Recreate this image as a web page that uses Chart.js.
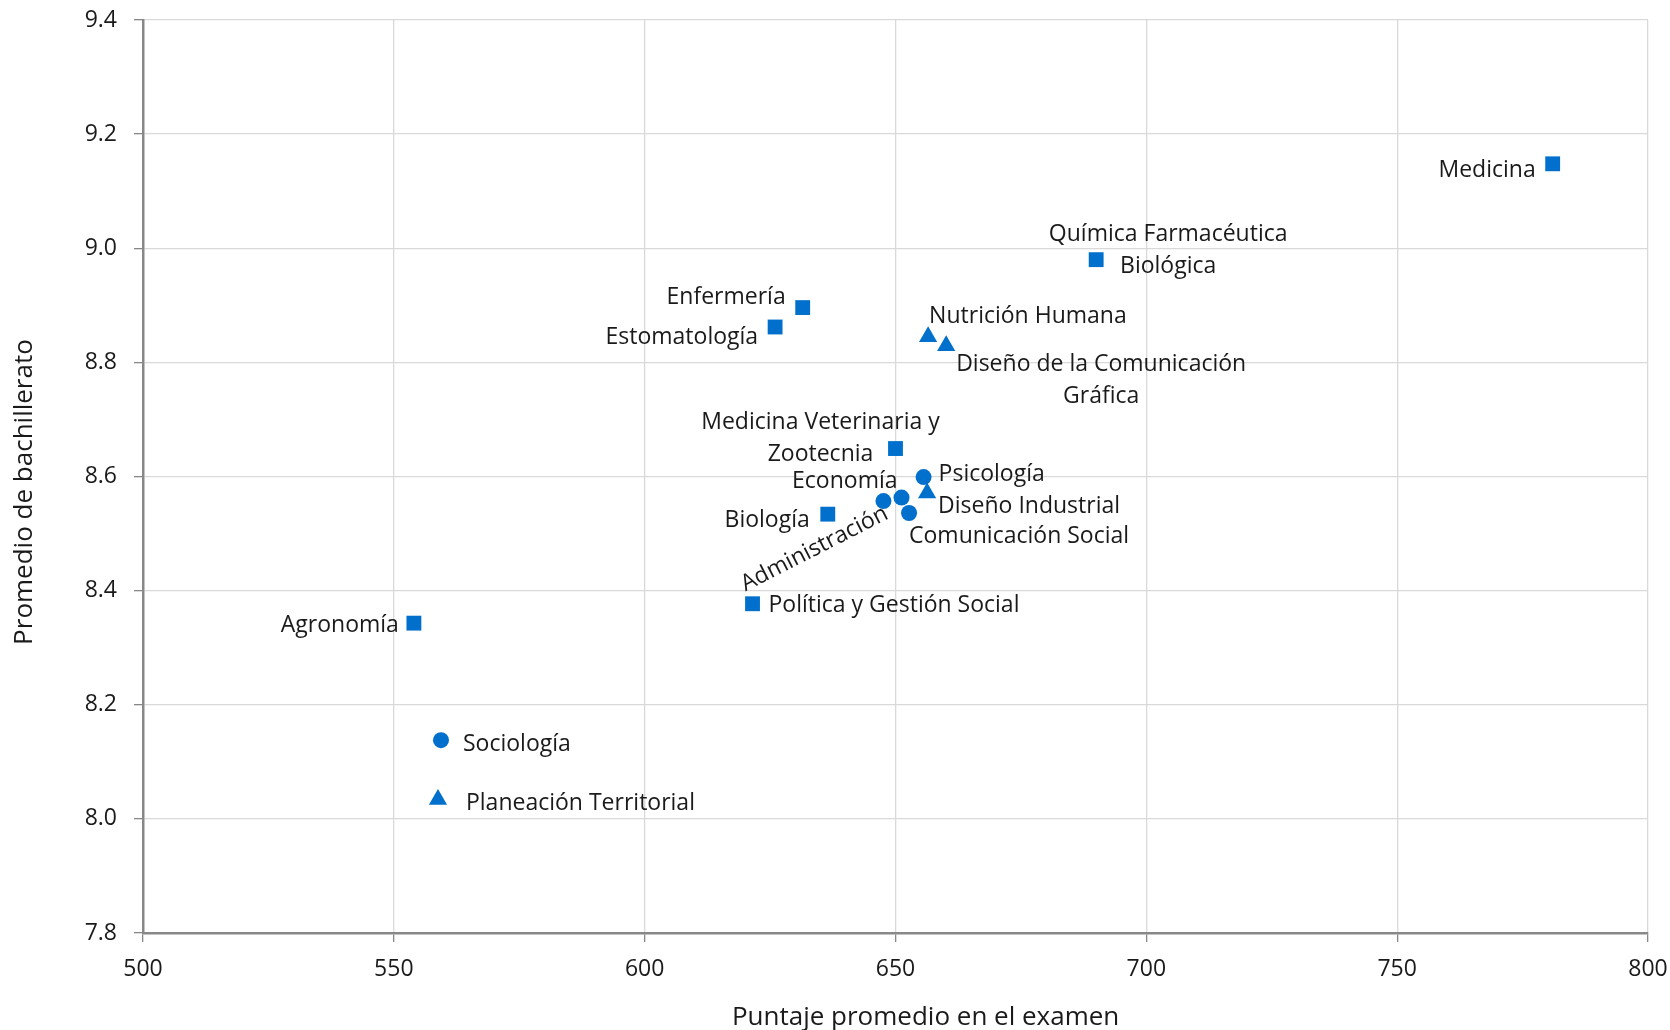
<!DOCTYPE html>
<html>
<head>
<meta charset="utf-8">
<script src="https://cdn.jsdelivr.net/npm/chart.js@4"></script>
<style>
  html, body { margin: 0; padding: 0; background: #fff; }
  #wrap { width: 1670px; height: 1030px; position: relative; }
</style>
</head>
<body>
<div id="wrap"><canvas id="c" width="1670" height="1030"></canvas></div>
<script>
// ---- Data ----
const squareNames = ['Medicina', 'Química Farmacéutica\nBiológica', 'Enfermería', 'Estomatología',
  'Medicina Veterinaria y\nZootecnia', 'Biología', 'Política y Gestión Social', 'Agronomía'];
const squareX = [781, 690, 631.5, 626, 650, 636.5, 621.5, 554];
const squareY = [9.148, 8.98, 8.896, 8.862, 8.649, 8.534, 8.377, 8.343];

const circleNames = ['Psicología', 'Economía', 'Administración', 'Comunicación Social', 'Sociología'];
const circleX = [655.6, 651.2, 647.6, 652.7, 559.4];
const circleY = [8.599, 8.563, 8.557, 8.536, 8.138];

const triangleNames = ['Nutrición Humana', 'Diseño de la Comunicación\nGráfica', 'Diseño Industrial', 'Planeación Territorial'];
const triangleX = [656.5, 660.1, 656.3, 558.8];
const triangleY = [8.845, 8.829, 8.571, 8.034];

const xTicks = [500, 550, 600, 650, 700, 750, 800];
const yTicks = [7.8, 8.0, 8.2, 8.4, 8.6, 8.8, 9.0, 9.2, 9.4];
const xTitle = 'Puntaje promedio en el examen';
const yTitle = 'Promedio de bachillerato';

// ---- Label placement (pixel offsets from each marker) ----
const labelPlacement = {
  'Medicina': { align: 'right', dx: -17, dy: [4] },
  'Química Farmacéutica\nBiológica': { align: 'center', dx: 72, dy: [-28, 4] },
  'Enfermería': { align: 'right', dx: -17, dy: [-13] },
  'Estomatología': { align: 'right', dx: -17, dy: [7] },
  'Medicina Veterinaria y\nZootecnia': { align: 'center', dx: -75, dy: [-29, 3] },
  'Biología': { align: 'right', dx: -18, dy: [3] },
  'Política y Gestión Social': { align: 'left', dx: 16, dy: [-1] },
  'Agronomía': { align: 'right', dx: -15, dy: [-1] },
  'Psicología': { align: 'left', dx: 15, dy: [-6] },
  'Economía': { align: 'right', dx: -4, dy: [-19] },
  'Administración': { align: 'center', dx: -69, dy: [45], rot: -27 },
  'Comunicación Social': { align: 'left', dx: 0, dy: [20] },
  'Sociología': { align: 'left', dx: 22, dy: [1] },
  'Nutrición Humana': { align: 'left', dx: 1, dy: [-23] },
  'Diseño de la Comunicación\nGráfica': { align: 'center', dx: 155, dy: [16, 48] },
  'Diseño Industrial': { align: 'left', dx: 11, dy: [10] },
  'Planeación Territorial': { align: 'left', dx: 28, dy: [1] }
};
const LABEL_SHIFT = 3;

const FONT = '"Open Sans", "Noto Sans", sans-serif';
const TEXT = '#1a1a1a';
const BLUE = '#0070CC';

function pts(xs, ys, names) {
  return xs.map((x, i) => ({ x: x, y: ys[i], name: names[i] }));
}

const labelPlugin = {
  id: 'pointLabels',
  afterDatasetsDraw(chart) {
    const ctx = chart.ctx;
    ctx.save();
    ctx.font = '23px ' + FONT;
    ctx.fillStyle = TEXT;
    ctx.textBaseline = 'middle';
    chart.data.datasets.forEach((ds, di) => {
      const meta = chart.getDatasetMeta(di);
      meta.data.forEach((el, i) => {
        const name = ds.data[i].name;
        const p = labelPlacement[name];
        if (!p) return;
        const lines = name.split('\n');
        ctx.textAlign = p.align;
        lines.forEach((line, li) => {
          const tx = el.x + p.dx;
          const ty = el.y + p.dy[li] + LABEL_SHIFT;
          if (p.rot) {
            ctx.save();
            ctx.translate(tx, ty);
            ctx.rotate(p.rot * Math.PI / 180);
            ctx.fillText(line, 0, 0);
            ctx.restore();
          } else {
            ctx.fillText(line, tx, ty);
          }
        });
      });
    });
    ctx.restore();
  }
};

const axisTitlePlugin = {
  id: 'axisTitles',
  afterDraw(chart) {
    const ctx = chart.ctx;
    ctx.save();
    ctx.font = '26px ' + FONT;
    ctx.fillStyle = TEXT;
    ctx.textAlign = 'center';
    ctx.textBaseline = 'middle';
    const ca = chart.chartArea;
    ctx.fillText(xTitle, ca.left + (ca.right - ca.left) * 0.52, ca.bottom + 85);
    ctx.translate(25, ca.top + (ca.bottom - ca.top) * 0.517);
    ctx.rotate(-Math.PI / 2);
    ctx.fillText(yTitle, 0, 0);
    ctx.restore();
  }
};

new Chart(document.getElementById('c'), {
  type: 'scatter',
  data: {
    datasets: [
      { label: 'A', data: pts(squareX, squareY, squareNames), pointStyle: 'rect', pointRadius: 10.5,
        backgroundColor: BLUE, borderColor: BLUE, borderWidth: 0 },
      { label: 'B', data: pts(circleX, circleY, circleNames), pointStyle: 'circle', pointRadius: 8,
        backgroundColor: BLUE, borderColor: BLUE, borderWidth: 0 },
      { label: 'C', data: pts(triangleX, triangleY, triangleNames), pointStyle: 'triangle', pointRadius: 10.5,
        backgroundColor: BLUE, borderColor: BLUE, borderWidth: 0 }
    ]
  },
  options: {
    responsive: false,
    animation: false,
    layout: { autoPadding: false, padding: { left: 0, top: 20, right: 22, bottom: 0 } },
    plugins: { legend: { display: false }, tooltip: { enabled: false } },
    scales: {
      x: {
        type: 'linear', min: 500, max: 800,
        afterBuildTicks: (s) => { s.ticks = xTicks.map(v => ({ value: v })); },
        afterFit: (s) => { s.height = 97; s.paddingLeft = 0; s.paddingRight = 0; },
        ticks: { color: TEXT, font: { family: FONT, size: 23 }, padding: 14 },
        grid: { color: '#d9d9d9', lineWidth: 1.3, tickColor: '#888', tickLength: 9 },
        border: { color: '#888', width: 2.5 }
      },
      y: {
        type: 'linear', min: 7.8, max: 9.4,
        afterBuildTicks: (s) => { s.ticks = yTicks.map(v => ({ value: v })); },
        afterFit: (s) => { s.width = 143; s.paddingTop = 0; s.paddingBottom = 0; },
        ticks: { color: TEXT, font: { family: FONT, size: 23 }, padding: 17, callback: (v) => v.toFixed(1) },
        grid: { color: '#d9d9d9', lineWidth: 1.3, tickColor: '#888', tickLength: 9 },
        border: { color: '#888', width: 2.5 }
      }
    }
  },
  plugins: [labelPlugin, axisTitlePlugin]
});
</script>
</body>
</html>
